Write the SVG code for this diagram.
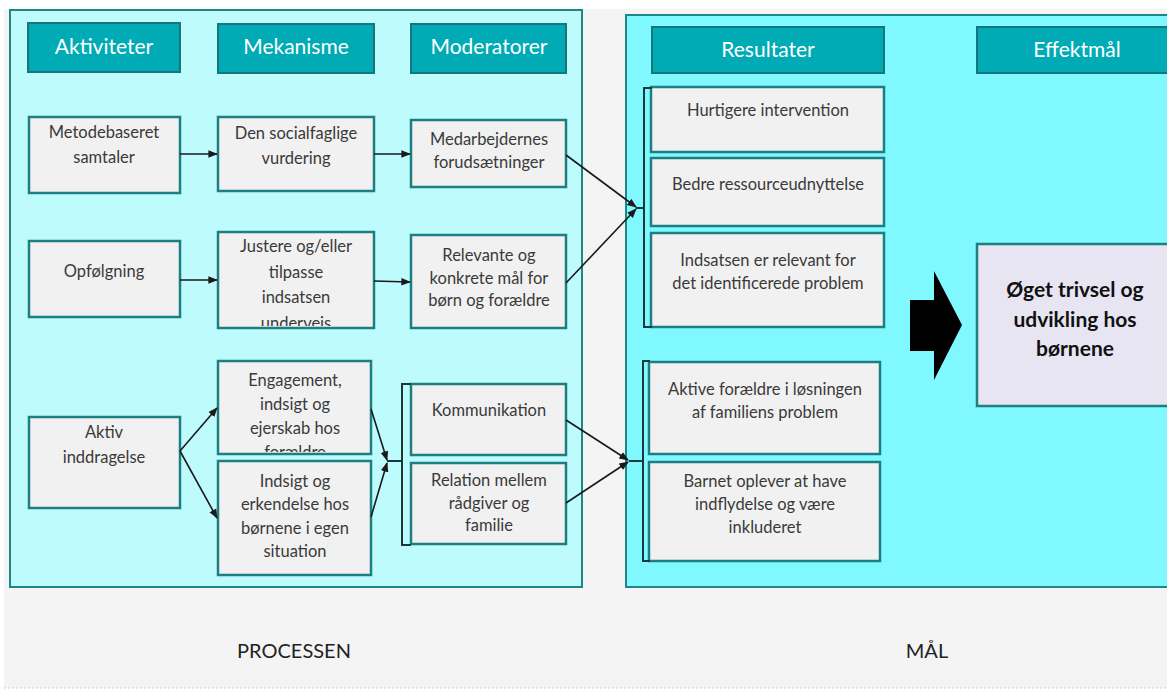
<svg xmlns="http://www.w3.org/2000/svg" width="1167" height="696" viewBox="0 0 1167 696">
  <style>
    .panel { stroke: #1f8585; stroke-width: 2; }
    .hdr { fill: #00abb5; stroke: #13777b; stroke-width: 2; }
    .hdr-t { font-family: Lato, "Open Sans", "Liberation Sans", sans-serif; font-size: 21px; fill: #ffffff; text-anchor: middle; }
    .box { fill: #f1f1f1; stroke: #1d7f82; stroke-width: 2.5; }
    .t { font-family: Lato, "Open Sans", "Liberation Sans", sans-serif; font-size: 16.5px; fill: #3a3a3a; text-anchor: middle; }
    .goal { fill: #e7e5f1; stroke: #1d7f82; stroke-width: 2.5; }
    .goal-t { font-family: Lato, "Open Sans", "Liberation Sans", sans-serif; font-size: 21px; font-weight: bold; fill: #111111; text-anchor: middle; }
    .foot { font-family: Lato, "Open Sans", "Liberation Sans", sans-serif; font-size: 20px; fill: #222222; text-anchor: middle; }
    .conn { fill: none; stroke: #1a1a1a; stroke-width: 1.6; }
    .brk { fill: none; stroke: #1a3a3a; stroke-width: 2; }
  </style>
  <defs>
    <marker id="arr" viewBox="0 0 10 10" refX="9" refY="5" markerWidth="6" markerHeight="6" orient="auto-start-reverse">
      <path d="M0,1 L10,5 L0,9 z" fill="#1a1a1a"/>
    </marker>
    <clipPath id="clipJustere"><rect x="218" y="232" width="156" height="94"/></clipPath>
    <clipPath id="clipEngage"><rect x="218" y="360" width="153" height="92"/></clipPath>
  </defs>

  <!-- page background -->
  <rect x="0" y="0" width="1167" height="696" fill="#ffffff"/>
  <rect x="4" y="9" width="1163" height="679" fill="#f4f4f4"/>
  <line x1="4" y1="688" x2="1167" y2="688" stroke="#cfcfcf" stroke-width="1" stroke-dasharray="2 2"/>

  <!-- panels -->
  <rect class="panel" x="10" y="10" width="572" height="577" fill="#bdfbfd"/>
  <rect class="panel" x="626" y="15" width="545" height="572" fill="#80f8ff"/>

  <!-- column headers -->
  <g id="hdr-aktiviteter"><rect class="hdr" x="28" y="23" width="152" height="49"/><text class="hdr-t" x="104" y="54">Aktiviteter</text></g>
  <g id="hdr-mekanisme"><rect class="hdr" x="218" y="24" width="156" height="49"/><text class="hdr-t" x="296" y="54">Mekanisme</text></g>
  <g id="hdr-moderatorer"><rect class="hdr" x="411" y="24" width="155" height="49"/><text class="hdr-t" x="489" y="54">Moderatorer</text></g>
  <g id="hdr-resultater"><rect class="hdr" x="652" y="27" width="232" height="46"/><text class="hdr-t" x="768" y="57">Resultater</text></g>
  <g id="hdr-effektmaal"><rect class="hdr" x="977" y="27" width="195" height="46"/><text class="hdr-t" x="1077" y="57">Effektmål</text></g>

  <!-- activities -->
  <g id="n-metodebaseret"><rect class="box" x="29" y="117" width="151" height="76"/>
    <text class="t" x="104" y="138">Metodebaseret</text><text class="t" x="104" y="163">samtaler</text></g>
  <g id="n-opfoelgning"><rect class="box" x="29" y="241" width="151" height="76"/>
    <text class="t" x="104" y="277">Opfølgning</text></g>
  <g id="n-aktiv"><rect class="box" x="29" y="417" width="151" height="91"/>
    <text class="t" x="104" y="438">Aktiv</text><text class="t" x="104" y="463">inddragelse</text></g>

  <!-- mechanisms -->
  <g id="n-socialfaglige"><rect class="box" x="218" y="117" width="156" height="74"/>
    <text class="t" x="296" y="139">Den socialfaglige</text><text class="t" x="296" y="164">vurdering</text></g>
  <g id="n-justere"><rect class="box" x="218" y="232" width="156" height="96"/>
    <g clip-path="url(#clipJustere)">
      <text class="t" x="296" y="252">Justere og/eller</text><text class="t" x="296" y="278">tilpasse</text>
      <text class="t" x="296" y="303">indsatsen</text><text class="t" x="296" y="329">underveis</text>
    </g></g>
  <g id="n-engagement"><rect class="box" x="218" y="361" width="153" height="93"/>
    <g clip-path="url(#clipEngage)">
      <text class="t" x="295" y="386">Engagement,</text><text class="t" x="295" y="410">indsigt og</text>
      <text class="t" x="295" y="434">ejerskab hos</text><text class="t" x="295" y="458">forældre</text>
    </g></g>
  <g id="n-indsigt"><rect class="box" x="218" y="461" width="153" height="114"/>
    <text class="t" x="295" y="487">Indsigt og</text><text class="t" x="295" y="510">erkendelse hos</text>
    <text class="t" x="295" y="534">børnene i egen</text><text class="t" x="295" y="557">situation</text></g>

  <!-- moderators -->
  <g id="n-medarbejdernes"><rect class="box" x="411" y="120" width="155" height="67"/>
    <text class="t" x="489" y="145">Medarbejdernes</text><text class="t" x="489" y="168">forudsætninger</text></g>
  <g id="n-relevante"><rect class="box" x="411" y="235" width="155" height="93"/>
    <text class="t" x="489" y="261">Relevante og</text><text class="t" x="489" y="284">konkrete mål for</text>
    <text class="t" x="489" y="306">børn og forældre</text></g>
  <g id="n-kommunikation"><rect class="box" x="411" y="384" width="155" height="71"/>
    <text class="t" x="489" y="416">Kommunikation</text></g>
  <g id="n-relation"><rect class="box" x="411" y="463" width="155" height="81"/>
    <text class="t" x="489" y="486">Relation mellem</text><text class="t" x="489" y="509">rådgiver og</text>
    <text class="t" x="489" y="531">familie</text></g>

  <!-- results -->
  <g id="n-hurtigere"><rect class="box" x="651" y="87" width="233" height="65"/>
    <text class="t" x="768" y="116">Hurtigere intervention</text></g>
  <g id="n-bedre"><rect class="box" x="651" y="158" width="233" height="68"/>
    <text class="t" x="768" y="190">Bedre ressourceudnyttelse</text></g>
  <g id="n-indsatsen"><rect class="box" x="651" y="233" width="233" height="94"/>
    <text class="t" x="768" y="266">Indsatsen er relevant for</text><text class="t" x="768" y="289">det identificerede problem</text></g>
  <g id="n-aktive"><rect class="box" x="649" y="362" width="231" height="92"/>
    <text class="t" x="765" y="395">Aktive forældre i løsningen</text><text class="t" x="765" y="418">af familiens problem</text></g>
  <g id="n-barnet"><rect class="box" x="649" y="462" width="231" height="99"/>
    <text class="t" x="765" y="487">Barnet oplever at have</text><text class="t" x="765" y="510">indflydelse og være</text>
    <text class="t" x="765" y="533">inkluderet</text></g>

  <!-- outcome -->
  <g id="n-oeget"><rect class="goal" x="977" y="244" width="195" height="162"/>
    <text class="goal-t" x="1075" y="297">Øget trivsel og</text><text class="goal-t" x="1075" y="327">udvikling hos</text>
    <text class="goal-t" x="1075" y="356">børnene</text></g>

  <!-- connectors -->
  <g id="connectors">
    <line class="conn" x1="180" y1="154" x2="217" y2="154" marker-end="url(#arr)"/>
    <line class="conn" x1="374" y1="154" x2="410" y2="154" marker-end="url(#arr)"/>
    <line class="conn" x1="180" y1="280" x2="217" y2="280" marker-end="url(#arr)"/>
    <line class="conn" x1="374" y1="281" x2="410" y2="282" marker-end="url(#arr)"/>
    <line class="conn" x1="180" y1="451" x2="217" y2="408" marker-end="url(#arr)"/>
    <line class="conn" x1="180" y1="451" x2="217" y2="518" marker-end="url(#arr)"/>
    <line class="conn" x1="371" y1="409" x2="387" y2="460" marker-end="url(#arr)"/>
    <line class="conn" x1="371" y1="517" x2="387" y2="463" marker-end="url(#arr)"/>
    <line class="conn" x1="566" y1="155" x2="636" y2="207" marker-end="url(#arr)"/>
    <line class="conn" x1="566" y1="283" x2="636" y2="209" marker-end="url(#arr)"/>
    <line class="conn" x1="566" y1="420" x2="628" y2="460" marker-end="url(#arr)"/>
    <line class="conn" x1="566" y1="503" x2="628" y2="462" marker-end="url(#arr)"/>
    <!-- group brackets -->
    <path class="brk" d="M411,384 H402 V545 H411 M402,461 H387"/>
    <path class="brk" d="M652,88 H644 V327 H652 M644,208 H636"/>
    <path class="brk" d="M650,361 H643 V561 H650 M643,461 H629"/>
    <!-- block arrow to outcome -->
    <path d="M910,300 H934 V271 L962,325 L934,380 V351 H910 Z" fill="#000000"/>
  </g>

  <!-- section labels -->
  <text class="foot" x="294" y="658">PROCESSEN</text>
  <text class="foot" x="927" y="658">MÅL</text>
</svg>
